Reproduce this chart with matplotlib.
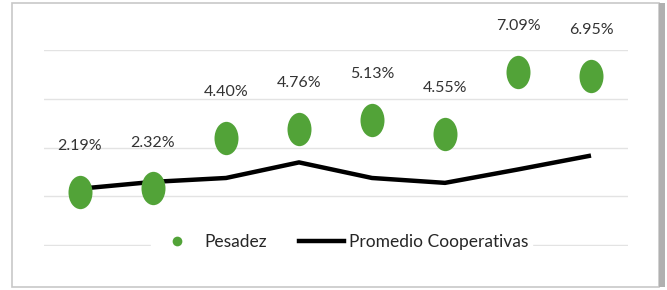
import numpy as np
import matplotlib.pyplot as plt
from matplotlib.path import Path
from matplotlib.patches import Rectangle
from matplotlib.lines import Line2D

# datos
categorias = ['1', '2', '3', '4', '5', '6', '7', '8']
pesadez = [2.19, 2.32, 4.40, 4.76, 5.13, 4.55, 7.09, 6.95]
promedio = [2.31, 2.59, 2.75, 3.39, 2.75, 2.55, 3.10, 3.67]
etiquetas = ['2.19%', '2.32%', '4.40%', '4.76%', '5.13%', '4.55%', '7.09%', '6.95%']

plt.rcParams['font.family'] = ['Lato', 'DejaVu Sans']

verde = '#52a338'
# marcador eliptico (la imagen original esta estirada)
circ = Path.unit_circle()
elipse = Path(circ.vertices * np.array([0.72, 1.0]), circ.codes)

fig = plt.figure(figsize=(6.67, 2.9), dpi=100)
ax = fig.add_axes([43.5 / 667, 44 / 290, 584 / 667, 196 / 290])

x = np.arange(len(categorias))
ax.plot(x, promedio, color='black', lw=3.2, solid_capstyle='butt',
        zorder=2, label='Promedio Cooperativas')
ax.plot(x, pesadez, linestyle='none', marker=elipse, markersize=24,
        color=verde, markeredgewidth=0, zorder=3, label='Pesadez')

for i in range(len(x)):
    ax.annotate(etiquetas[i], (x[i], pesadez[i]), xytext=(0, 33),
                textcoords='offset points', ha='center', va='center',
                fontsize=11.5, color='#333333')

ax.set_xlim(-0.5, 7.5)
ax.set_ylim(-0.04, 8)
ax.set_yticks([0, 2, 4, 6, 8])
ax.grid(axis='y', color='#e3e3e3', lw=1)
ax.set_axisbelow(True)
ax.tick_params(left=False, bottom=False, labelleft=False, labelbottom=False)
for s in ax.spines.values():
    s.set_visible(False)

h_dot = Line2D([], [], linestyle='none', marker='o', markersize=7,
               color=verde, markeredgewidth=0)
h_line = Line2D([], [], color='black', lw=3.2)
leg = ax.legend([h_dot, h_line], ['Pesadez', 'Promedio Cooperativas'],
                loc='center', bbox_to_anchor=(0.51, 0.02), ncol=2,
                frameon=True, fontsize=12.5, handlelength=2.6,
                handletextpad=0.3, columnspacing=1.8, borderpad=0.2,
                borderaxespad=0)
leg.get_frame().set_edgecolor('white')
leg.get_frame().set_facecolor('white')
leg.get_frame().set_alpha(1)
leg.set_zorder(5)
for t in leg.get_texts():
    t.set_color('#262626')

# marco del grafico
fig.patches.append(Rectangle((12 / 667, 3 / 290), 647 / 667, 284 / 290,
                             transform=fig.transFigure, fill=False,
                             edgecolor='#c8c8c8', lw=1.2))
fig.patches.append(Rectangle((659 / 667, 3 / 290), 6 / 667, 284 / 290,
                             transform=fig.transFigure, color='#b0b0b0', lw=0))

plt.savefig('out.png', dpi=100)
